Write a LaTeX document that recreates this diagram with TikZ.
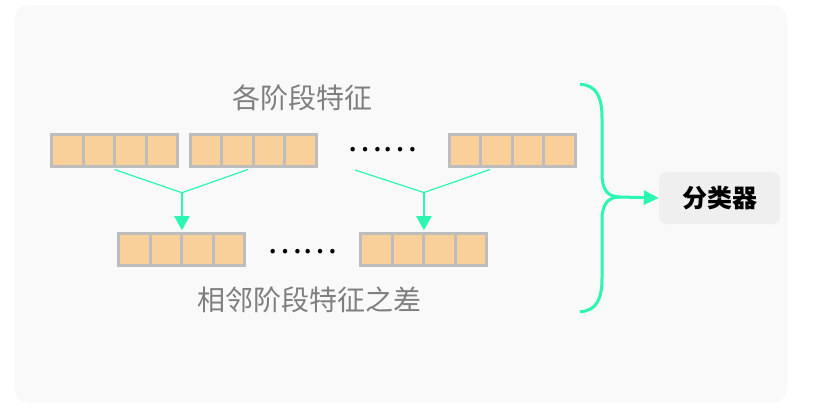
\documentclass[tikz,border=0pt]{standalone}
\usepackage{fontspec}
\newfontfamily\cjk{Noto Sans CJK SC}
\usetikzlibrary{arrows.meta,calc}
\definecolor{bgc}{HTML}{F9F9F9}
\definecolor{peach}{HTML}{F9CF9A}
\definecolor{cellgray}{HTML}{BDBDBD}
\definecolor{mint}{HTML}{2CF6B3}
\definecolor{txtgray}{HTML}{7F7F7F}
\definecolor{clsfill}{HTML}{EFEFEF}
\tikzset{
  featbox/.style={draw=cellgray, fill=peach, line width=3pt, minimum width=126pt, minimum height=32pt, inner sep=0pt, outer sep=0pt},
  divider/.style={draw=cellgray, line width=3pt},
  graylabel/.style={font=\cjk\fontsize{28}{30}\selectfont, text=txtgray, inner sep=0pt},
  dotslabel/.style={font=\cjk\fontsize{33}{35}\selectfont, text=black, inner sep=0pt},
  thinline/.style={draw=mint, line width=1.2pt},
  downarrow/.style={draw=mint, line width=2pt, -{Triangle[length=14pt,width=15pt]}},
  bracepath/.style={draw=mint, line width=3pt},
  clsbox/.style={fill=clsfill, rounded corners=8pt, minimum width=121pt, minimum height=52pt, inner sep=0pt, font=\cjk\bfseries\fontsize{25}{27}\selectfont},
  bigarrow/.style={draw=mint, line width=3pt, -{Triangle[length=15pt,width=14pt]}}
}
\newcommand\featcells[1]{%
  \foreach \i in {1,2,3}{\draw[divider] ($(#1.north west)!\i/4!(#1.north east)$) -- ($(#1.south west)!\i/4!(#1.south east)$);}%
}
\begin{document}
\begin{tikzpicture}[x=1pt,y=-1pt]
\useasboundingbox (0,0) rectangle (814,418);
\fill[bgc, rounded corners=15pt] (14,5) rectangle (787,403);

% titles
\node[graylabel] (t1) at (302.5,97.5) {各阶段特征};
\node[graylabel] (t2) at (309,299.5) {相邻阶段特征之差};

% top row
\node[featbox] (b1) at (114.5,150.5) {};
\node[featbox] (b2) at (253,150.5) {};
\node[featbox] (b3) at (512.2,150.5) {};
\featcells{b1}\featcells{b2}\featcells{b3}
\node[dotslabel] (d1) at (382,150) {……};

% bottom row
\node[featbox] (b4) at (181.9,249.2) {};
\node[featbox] (b5) at (423.9,249.2) {};
\featcells{b4}\featcells{b5}
\node[dotslabel] (d2) at (302.5,251.5) {……};

% merging connectors
\coordinate (m1) at (181.9,192.7);
\coordinate (m2) at (423.9,192.5);
\draw[thinline] ($(b1.south)+(0,3)$) -- (m1);
\draw[thinline] ($(b2.south)+(-5,3)$) -- (m1);
\draw[downarrow] (m1) -- ($(b4.north)+(0,-3)$);
\draw[thinline] ($(d1.center)+(-27,20)$) -- (m2);
\draw[thinline] ($(b3.south)+(-22,3)$) -- (m2);
\draw[downarrow] (m2) -- ($(b5.north)+(0,-3)$);

% classifier
\node[clsbox] (cls) at (719.5,198) {分类器};

% brace
\coordinate (bt) at (580,84.3);
\coordinate (bj) at (620,197);
\coordinate (bb) at (580,311.7);
\draw[bracepath] (bt) .. controls (597,85) and (602,98) .. (602,118)
  -- (602,174) .. controls (602,190) and (608,197) .. (bj);
\draw[bracepath] (bj) .. controls (608,197) and (602,204) .. (602,220)
  -- (602,278) .. controls (602,298) and (597,311) .. (bb);
\draw[bigarrow] (bj) -- (cls.west);
\end{tikzpicture}
\end{document}
